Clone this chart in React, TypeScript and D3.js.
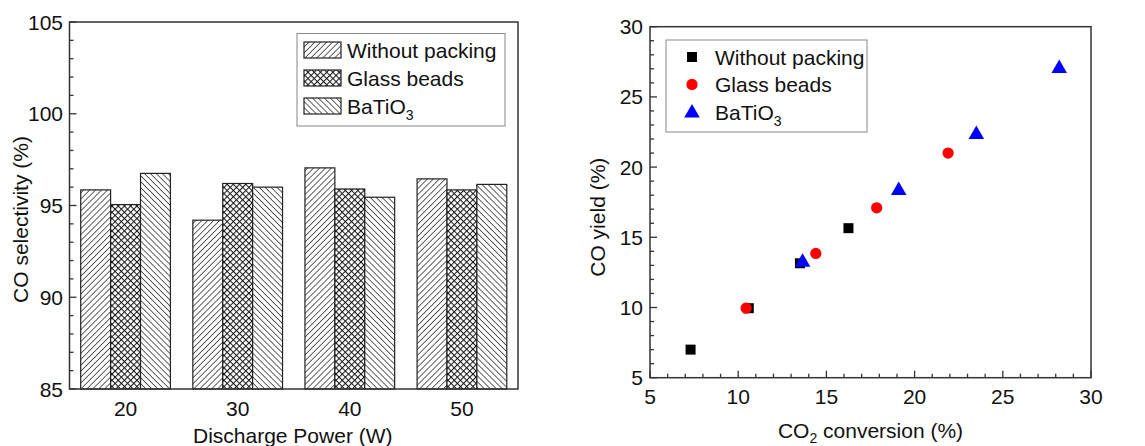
import { useEffect, useRef } from 'react'
import * as d3 from 'd3'

const powers = ['20', '30', '40', '50']
const barSeries = ['Without packing', 'Glass beads', 'BaTiO3']
const withoutPackingSel = [95.85, 94.2, 97.05, 96.45]
const glassBeadsSel = [95.05, 96.2, 95.9, 95.85]
const batio3Sel = [96.75, 96.0, 95.45, 96.15]
const selTicks = [85, 90, 95, 100, 105]

const withoutPackingPts: [number, number][] = [[7.3, 7.0], [10.6, 9.95], [13.5, 13.15], [16.25, 15.65]]
const glassBeadsPts: [number, number][] = [[10.45, 9.95], [14.4, 13.85], [17.85, 17.1], [21.9, 21.0]]
const batio3Pts: [number, number][] = [[13.65, 13.3], [19.1, 18.4], [23.5, 22.4], [28.2, 27.1]]
const convTicks = [5, 10, 15, 20, 25, 30]
const yieldTicks = [5, 10, 15, 20, 25, 30]

const FONT = '"Liberation Sans", Arial, sans-serif'
const patternIds = ['hatchFwd', 'hatchCross', 'hatchBack']

const App = () => {
  const ref = useRef<SVGSVGElement | null>(null)
  useEffect(() => {
    document.body.style.margin = '0'
    const el = ref.current
    if (!el) return
    const svg = d3.select(el)
    svg.selectAll('*').remove()
    svg.style('font-family', FONT)

    // patterns
    const defs = svg.append('defs')
    const hatch = (id: string, rot: number, step: number, w: number, crossed: boolean) => {
      const p = defs.append('pattern').attr('id', id).attr('patternUnits', 'userSpaceOnUse')
        .attr('width', step).attr('height', step).attr('patternTransform', `rotate(${rot})`)
      p.append('rect').attr('width', step).attr('height', step).attr('fill', '#fff')
      p.append('line').attr('x1', 0).attr('y1', 0).attr('x2', 0).attr('y2', step).attr('stroke', '#111').attr('stroke-width', w)
      if (crossed) p.append('line').attr('x1', 0).attr('y1', 0).attr('x2', step).attr('y2', 0).attr('stroke', '#111').attr('stroke-width', w)
    }
    hatch('hatchFwd', 45, 4.2, 1.3, false)
    hatch('hatchBack', -45, 4.2, 1.3, false)
    hatch('hatchCross', 45, 4.4, 2, true)

    // ---------- left: bar chart ----------
    const L = { left: 69.5, right: 518, top: 22, bottom: 389 }
    const x0 = d3.scaleBand().domain(powers).range([L.left, L.right]).paddingInner(0.2).paddingOuter(0.1)
    const x1 = d3.scaleBand().domain(barSeries).range([0, x0.bandwidth()])
    const yS = d3.scaleLinear().domain([85, 105]).range([L.bottom, L.top])
    const selData = [withoutPackingSel, glassBeadsSel, batio3Sel]

    const gl = svg.append('g')
    barSeries.forEach((s, si) => {
      gl.append('g').selectAll('rect').data(selData[si]).join('rect')
        .attr('x', (_d, i) => (x0(powers[i]) ?? 0) + (x1(s) ?? 0))
        .attr('y', d => yS(d))
        .attr('width', x1.bandwidth())
        .attr('height', d => yS(85) - yS(d))
        .attr('fill', `url(#${patternIds[si]})`)
        .attr('stroke', '#222').attr('stroke-width', 1.2)
    })

    gl.append('rect').attr('x', L.left).attr('y', L.top).attr('width', L.right - L.left).attr('height', L.bottom - L.top)
      .attr('fill', 'none').attr('stroke', '#333').attr('stroke-width', 1.5)

    // y ticks (inward)
    gl.append('g').selectAll('line').data(d3.range(85, 106, 1)).join('line')
      .attr('x1', L.left).attr('x2', d => L.left + (d % 5 === 0 ? 7 : 4))
      .attr('y1', d => yS(d)).attr('y2', d => yS(d))
      .attr('stroke', '#333').attr('stroke-width', 1.3)
    gl.append('g').selectAll('text').data(selTicks).join('text')
      .attr('x', L.left - 6.5).attr('y', d => yS(d) + 7.5)
      .attr('text-anchor', 'end').attr('font-size', 21).attr('fill', '#111')
      .text(d => d)
    gl.append('g').selectAll('text').data(powers).join('text')
      .attr('x', d => (x0(d) ?? 0) + x0.bandwidth() / 2).attr('y', 416)
      .attr('text-anchor', 'middle').attr('font-size', 21).attr('fill', '#111')
      .text(d => d)
    gl.append('text').attr('x', (L.left + L.right) / 2 - 1).attr('y', 443)
      .attr('text-anchor', 'middle').attr('font-size', 21).attr('fill', '#111')
      .text('Discharge Power (W)')
    gl.append('text').attr('transform', `translate(28,${(L.top + L.bottom) / 2 + 14}) rotate(-90)`)
      .attr('text-anchor', 'middle').attr('font-size', 21).attr('fill', '#111')
      .text('CO selectivity (%)')

    // legend left
    const lg = gl.append('g')
    lg.append('rect').attr('x', 297).attr('y', 33.5).attr('width', 208).attr('height', 92.5)
      .attr('fill', '#fff').attr('stroke', '#888').attr('stroke-width', 1)
    const lRows = [50, 78, 106]
    barSeries.forEach((s, i) => {
      lg.append('rect').attr('x', 304).attr('y', lRows[i] - 8).attr('width', 37).attr('height', 16)
        .attr('fill', `url(#${patternIds[i]})`).attr('stroke', '#222').attr('stroke-width', 1.2)
      const t = lg.append('text').attr('x', 347).attr('y', lRows[i] + 7.5).attr('font-size', 21).attr('fill', '#111')
      if (s === 'BaTiO3') {
        t.append('tspan').text('BaTiO')
        t.append('tspan').attr('dy', 6).attr('font-size', 14).text('3')
      } else t.text(s)
    })

    // ---------- right: scatter ----------
    const R = { left: 650, right: 1091, top: 26.7, bottom: 377.7 }
    const xC = d3.scaleLinear().domain([5, 30]).range([R.left, R.right])
    const yY = d3.scaleLinear().domain([5, 30]).range([R.bottom, R.top])
    const gr = svg.append('g')

    gr.append('rect').attr('x', R.left).attr('y', R.top).attr('width', R.right - R.left).attr('height', R.bottom - R.top)
      .attr('fill', 'none').attr('stroke', '#333').attr('stroke-width', 1.5)
    gr.append('g').selectAll('line').data(d3.range(5, 31, 1)).join('line')
      .attr('x1', R.left).attr('x2', d => R.left + (d % 5 === 0 ? 7 : 4))
      .attr('y1', d => yY(d)).attr('y2', d => yY(d))
      .attr('stroke', '#333').attr('stroke-width', 1.3)
    gr.append('g').selectAll('line').data(d3.range(5, 31, 1)).join('line')
      .attr('y1', R.bottom).attr('y2', d => R.bottom - (d % 5 === 0 ? 7 : 4))
      .attr('x1', d => xC(d)).attr('x2', d => xC(d))
      .attr('stroke', '#333').attr('stroke-width', 1.3)
    gr.append('g').selectAll('text').data(yieldTicks).join('text')
      .attr('x', R.left - 7).attr('y', d => yY(d) + 7.5)
      .attr('text-anchor', 'end').attr('font-size', 21).attr('fill', '#111')
      .text(d => d)
    gr.append('g').selectAll('text').data(convTicks).join('text')
      .attr('x', d => xC(d)).attr('y', 404)
      .attr('text-anchor', 'middle').attr('font-size', 21).attr('fill', '#111')
      .text(d => d)
    const xt = gr.append('text').attr('x', (R.left + R.right) / 2).attr('y', 438)
      .attr('text-anchor', 'middle').attr('font-size', 21).attr('fill', '#111')
    xt.append('tspan').text('CO')
    xt.append('tspan').attr('dy', 5).attr('font-size', 14).text('2')
    xt.append('tspan').attr('dy', -5).text(' conversion (%)')
    gr.append('text').attr('transform', `translate(605,${(R.top + R.bottom) / 2 + 15}) rotate(-90)`)
      .attr('text-anchor', 'middle').attr('font-size', 21).attr('fill', '#111')
      .text('CO yield (%)')

    const sq = d3.symbol().type(d3.symbolSquare).size(100)
    const ci = d3.symbol().type(d3.symbolCircle).size(100)
    const tr = d3.symbol().type(d3.symbolTriangle).size(105)

    gr.append('g').selectAll('path').data(withoutPackingPts).join('path')
      .attr('d', sq).attr('transform', d => `translate(${xC(d[0])},${yY(d[1])})`).attr('fill', '#000')
    gr.append('g').selectAll('path').data(glassBeadsPts).join('path')
      .attr('d', ci).attr('transform', d => `translate(${xC(d[0])},${yY(d[1])})`).attr('fill', '#f00')
    gr.append('g').selectAll('path').data(batio3Pts).join('path')
      .attr('d', tr).attr('transform', d => `translate(${xC(d[0])},${yY(d[1]) + 1})`).attr('fill', '#00f')

    // legend right
    const rg = gr.append('g')
    rg.append('rect').attr('x', 666).attr('y', 40).attr('width', 201).attr('height', 92)
      .attr('fill', '#fff').attr('stroke', '#888').attr('stroke-width', 1)
    const rRows = [57, 84.5, 112]
    const syms = [sq, ci, tr]
    const cols = ['#000', '#f00', '#00f']
    barSeries.forEach((s, i) => {
      rg.append('path').attr('d', syms[i]).attr('transform', `translate(692,${rRows[i] + (i === 2 ? 1 : 0)})`).attr('fill', cols[i])
      const t = rg.append('text').attr('x', 715).attr('y', rRows[i] + 7.5).attr('font-size', 21).attr('fill', '#111')
      if (s === 'BaTiO3') {
        t.append('tspan').text('BaTiO')
        t.append('tspan').attr('dy', 6).attr('font-size', 14).text('3')
      } else t.text(s)
    })
  }, [])
  return <svg ref={ref} width={1145} height={446} style={{ display: 'block', background: '#fff' }} />
}

export default App
